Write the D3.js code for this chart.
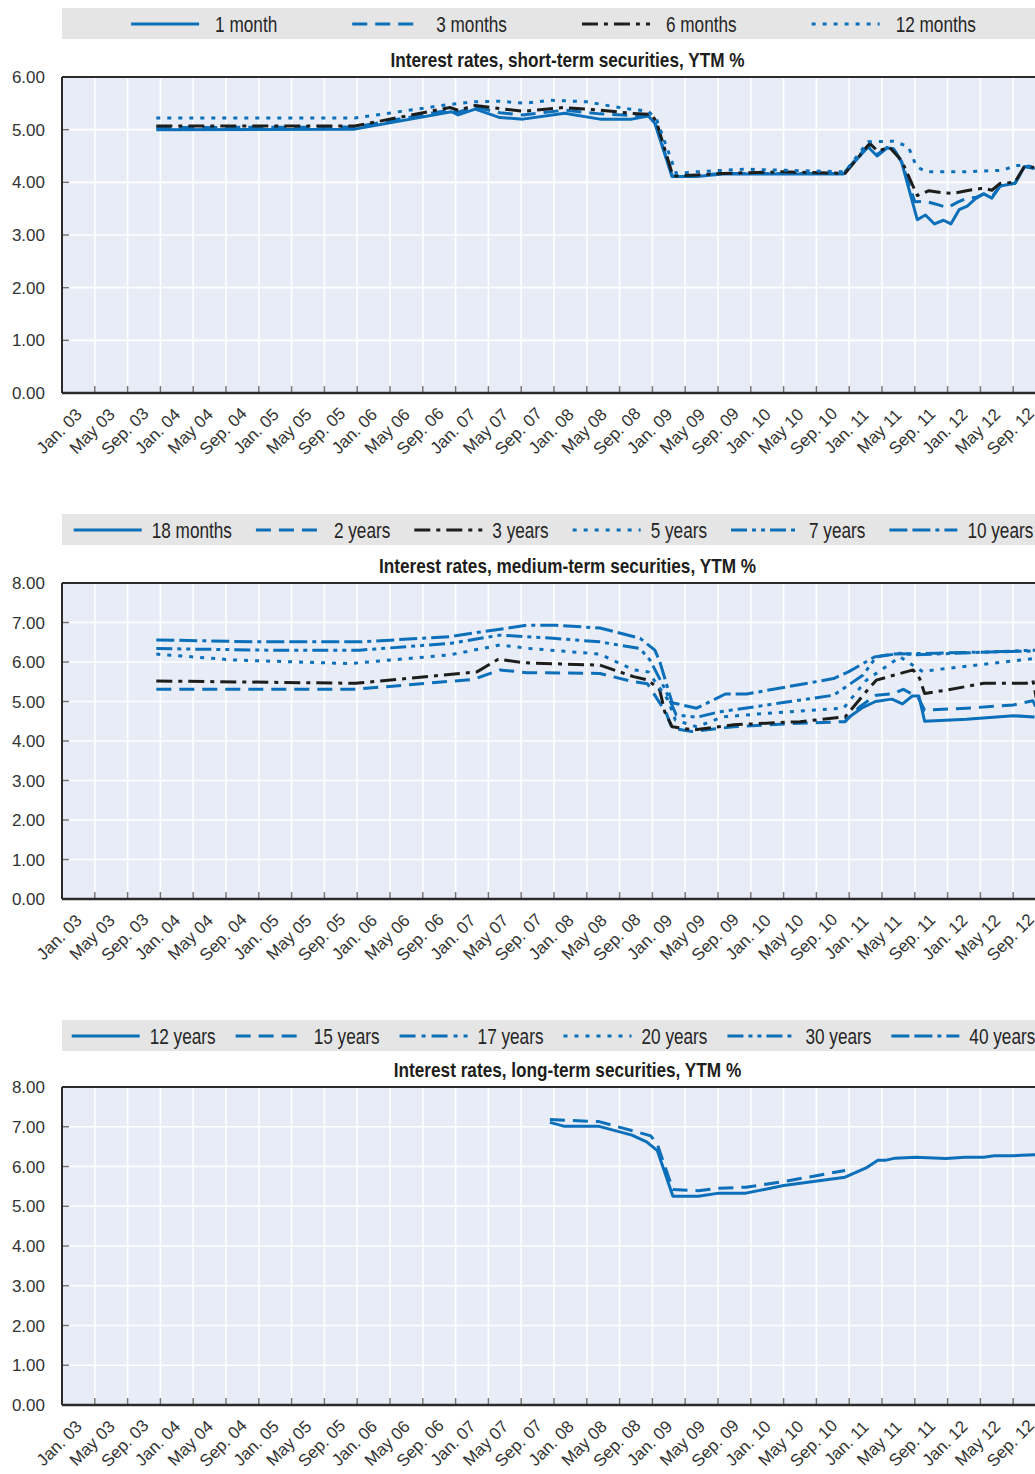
<!DOCTYPE html>
<html><head><meta charset="utf-8">
<script src="https://cdn.jsdelivr.net/npm/d3@7"></script>
<style>body{margin:0;background:#fff}svg{display:block}</style>
</head><body>
<svg id="chart" width="1035" height="1474"></svg>
<script>
// ---------- DATA (month index: 0 = Jan. 2003) ----------
const tickMonths = d3.range(0, 117, 4);
const tickLabels = ["Jan. 03","May 03","Sep. 03","Jan. 04","May 04","Sep. 04","Jan. 05","May 05","Sep. 05",
  "Jan. 06","May 06","Sep. 06","Jan. 07","May 07","Sep. 07","Jan. 08","May 08","Sep. 08","Jan. 09","May 09",
  "Sep. 09","Jan. 10","May 10","Sep. 10","Jan. 11","May 11","Sep. 11","Jan. 12","May 12","Sep. 12"];

const shortTitle = "Interest rates, short-term securities, YTM %";
const mediumTitle = "Interest rates, medium-term securities, YTM %";
const longTitle = "Interest rates, long-term securities, YTM %";

const shortNames = ["1 month","3 months","6 months","12 months"];
const mediumNames = ["18 months","2 years","3 years","5 years","7 years","10 years"];
const longNames = ["12 years","15 years","17 years","20 years","30 years","40 years"];

const m1 = [[11.5,5.00],[35.7,5.01],[47.5,5.34],[48.3,5.28],[50.4,5.39],[53.4,5.23],[56.2,5.20],[61.3,5.31],[65.6,5.20],[69.5,5.20],[71.5,5.26],[72.3,5.12],[74.4,4.11],[77.4,4.11],[80.6,4.16],[95.3,4.16],[98.3,4.67],[99.4,4.50],[100.6,4.65],[101.4,4.64],[102.4,4.38],[104.3,3.29],[105.3,3.38],[106.4,3.21],[107.5,3.28],[108.4,3.21],[109.4,3.48],[110.4,3.55],[111.4,3.69],[112.4,3.78],[113.4,3.70],[114.4,3.93],[116.2,3.98],[117.4,4.30],[118.6,4.26]];
const m3 = [[11.5,5.04],[35.7,5.05],[47.5,5.38],[48.3,5.33],[50.4,5.43],[53.4,5.32],[56.2,5.28],[61.3,5.37],[65.6,5.30],[69.5,5.27],[71.5,5.27],[72.3,5.15],[74.4,4.12],[77.4,4.13],[80.6,4.17],[95.3,4.17],[98.3,4.70],[99.4,4.53],[100.6,4.66],[101.4,4.64],[102.4,4.39],[104.0,3.63],[105.3,3.64],[106.5,3.59],[108.0,3.52],[109.3,3.63],[110.4,3.70],[111.4,3.71],[112.4,3.78],[113.4,3.72],[114.4,3.93],[116.2,3.98],[117.4,4.30],[118.6,4.27]];
const m6 = [[11.5,5.07],[35.7,5.07],[47.3,5.42],[48.3,5.37],[50.4,5.46],[53.4,5.40],[56.3,5.35],[61.1,5.42],[65.6,5.37],[69.5,5.31],[71.9,5.29],[72.5,5.15],[74.5,4.12],[77.4,4.14],[80.6,4.17],[87.9,4.20],[95.5,4.17],[98.5,4.74],[99.5,4.59],[100.9,4.67],[102.4,4.41],[104.3,3.75],[105.7,3.84],[107.5,3.80],[108.7,3.79],[110.3,3.84],[112.3,3.89],[113.4,3.85],[114.4,3.98],[116.2,4.00],[117.4,4.31],[118.6,4.28]];
const m12 = [[11.5,5.22],[35.7,5.22],[47.3,5.48],[50.4,5.53],[53.4,5.54],[56.5,5.50],[59.5,5.56],[64.0,5.53],[67.2,5.44],[69.3,5.39],[71.5,5.35],[72.5,5.20],[74.9,4.17],[77.4,4.20],[83.1,4.25],[87.9,4.23],[95.5,4.20],[98.3,4.77],[101.4,4.78],[103.2,4.68],[104.2,4.30],[105.4,4.20],[110.3,4.20],[114.8,4.23],[116.2,4.32],[117.4,4.32],[118.6,4.29]];

const y18m = [[95.5,4.53],[97.5,4.83],[99.2,5.00],[101.2,5.06],[102.5,4.94],[103.7,5.14],[104.5,5.14],[105.2,4.50],[110.3,4.55],[116.0,4.64],[118.6,4.61]];
const y2 = [[11.5,5.31],[35.8,5.31],[50.2,5.56],[53.4,5.80],[56.7,5.73],[65.6,5.71],[69.7,5.50],[71.4,5.45],[73.7,4.70],[74.4,4.32],[76.8,4.24],[81.9,4.36],[90.0,4.45],[95.5,4.49],[97.3,4.87],[99.3,5.16],[101.4,5.20],[102.6,5.31],[104.4,5.10],[105.2,4.78],[110.3,4.83],[116.0,4.91],[118.4,5.02],[118.9,4.80]];
const y3 = [[11.5,5.52],[35.8,5.46],[50.6,5.75],[53.2,6.07],[56.3,5.98],[65.6,5.92],[69.7,5.63],[71.5,5.54],[72.9,5.29],[73.5,4.74],[74.4,4.36],[77.0,4.28],[81.9,4.41],[90.0,4.49],[95.5,4.61],[97.7,5.16],[99.3,5.54],[102.2,5.71],[103.8,5.80],[104.6,5.58],[105.2,5.20],[107.9,5.29],[112.4,5.46],[117.6,5.46],[118.4,5.54],[118.9,5.00]];
const y5 = [[11.5,6.20],[21.0,6.05],[35.1,5.96],[47.3,6.18],[53.4,6.43],[57.1,6.34],[65.6,6.20],[69.7,5.80],[71.5,5.75],[73.9,5.04],[74.8,4.53],[77.4,4.36],[80.6,4.61],[85.9,4.70],[95.3,4.83],[98.1,5.54],[102.2,6.13],[105.0,5.75],[106.3,5.80],[118.7,6.09]];
const y7 = [[11.5,6.34],[25.0,6.30],[36.3,6.30],[47.3,6.47],[53.4,6.68],[59.9,6.60],[65.6,6.51],[70.5,6.34],[71.7,6.05],[73.5,5.33],[74.9,4.66],[77.4,4.60],[80.2,4.74],[85.9,4.91],[94.1,5.16],[97.7,5.67],[99.3,6.13],[102.2,6.22],[104.0,6.18],[118.7,6.30]];
const y10 = [[11.5,6.56],[23.7,6.51],[36.3,6.51],[47.3,6.64],[51.4,6.77],[56.7,6.93],[60.3,6.93],[65.6,6.86],[70.5,6.60],[72.3,6.30],[72.9,6.01],[74.4,4.97],[77.4,4.83],[80.9,5.19],[83.5,5.19],[94.1,5.58],[95.9,5.75],[99.1,6.13],[101.4,6.20],[118.7,6.28]];

const y12 = [[59.5,7.11],[61.3,7.01],[65.5,7.01],[69.5,6.79],[71.3,6.62],[72.6,6.40],[74.5,5.25],[77.6,5.25],[80.1,5.33],[83.4,5.33],[88.0,5.52],[95.5,5.73],[98.2,5.98],[99.5,6.16],[100.5,6.16],[101.6,6.21],[104.1,6.23],[107.8,6.20],[110.1,6.23],[112.4,6.23],[113.7,6.27],[116.0,6.27],[118.8,6.30]];
const y15 = [[59.5,7.18],[65.5,7.13],[67.2,7.03],[70.3,6.86],[71.8,6.77],[72.6,6.56],[74.5,5.42],[77.6,5.39],[80.1,5.45],[83.4,5.48],[88.0,5.62],[95.5,5.90]];
const y17 = [], y20 = [], y30 = [], y40 = [];

// ---------- STYLE ----------
const BLUE = "#0b6fba", BLACK = "#1d1d1b";
const styles = {
  solid:   {color: BLUE,  dash: null},
  dashed:  {color: BLUE,  dash: "15,8"},
  dashdotK:{color: BLACK, dash: "16,6,4,6"},
  dashdotB:{color: BLUE,  dash: "16,6,4,6"},
  dotted:  {color: BLUE,  dash: "4,7"},
  dashdotdot:{color: BLUE, dash: "16,5,4,5,4,5"},
  longlongdot:{color: BLUE, dash: "18,5,18,5,4,5"}
};

const panels = [
  {title: shortTitle, ymax: 6, legendTop: 8, plotTop: 77, plotBottom: 393, legendGap: 75, textGap: 16,
   series: [[shortNames[0], m1, "solid"], [shortNames[1], m3, "dashed"], [shortNames[2], m6, "dashdotK"], [shortNames[3], m12, "dotted"]]},
  {title: mediumTitle, ymax: 8, legendTop: 514, plotTop: 583, plotBottom: 899, legendGap: 24, textGap: 10,
   series: [[mediumNames[0], y18m, "solid"], [mediumNames[1], y2, "dashed"], [mediumNames[2], y3, "dashdotK"], [mediumNames[3], y5, "dotted"], [mediumNames[4], y7, "dashdotdot"], [mediumNames[5], y10, "longlongdot"]]},
  {title: longTitle, ymax: 8, legendTop: 1020, plotTop: 1087, plotBottom: 1405, legendGap: 20, textGap: 10,
   series: [[longNames[0], y12, "solid"], [longNames[1], y15, "dashed"], [longNames[2], y17, "dashdotB"], [longNames[3], y20, "dotted"], [longNames[4], y30, "dashdotdot"], [longNames[5], y40, "longlongdot"]]}
];

const svg = d3.select("#chart");
const x = d3.scaleLinear().domain([0, 120]).range([62, 1046]);
const plotLeft = 62, plotRight = 1046, center = 553.5;
const FONT = "'Liberation Sans',Arial,Helvetica,sans-serif";
const SQUEEZE = 0.8, TITLE_SQUEEZE = 0.86;

panels.forEach((p, pi) => {
  const g = svg.append("g");
  const y = d3.scaleLinear().domain([0, p.ymax]).range([p.plotBottom, p.plotTop]);

  // legend band
  g.append("rect").attr("x", plotLeft).attr("y", p.legendTop).attr("width", plotRight - plotLeft + 10).attr("height", 31).attr("fill", "#e5e5e5");
  const lg = g.append("g");
  const items = p.series.map(s => {
    const it = lg.append("g");
    it.append("line").attr("x1", 0).attr("x2", 68).attr("y1", 0).attr("y2", 0)
      .attr("stroke", styles[s[2]].color).attr("stroke-width", 3).attr("stroke-dasharray", styles[s[2]].dash);
    const t = it.append("text").attr("transform", `translate(${68 + p.textGap},7.5) scale(${SQUEEZE},1)`).text(s[0])
      .attr("font-family", FONT).attr("font-size", 21.5).attr("fill", "#262626");
    return {it, w: 68 + p.textGap + t.node().getComputedTextLength() * SQUEEZE};
  });
  const total = d3.sum(items, d => d.w) + p.legendGap * (items.length - 1);
  let cx = center - total / 2;
  items.forEach(d => { d.it.attr("transform", `translate(${cx},${p.legendTop + 16})`); cx += d.w + p.legendGap; });

  // title
  g.append("text").attr("transform", `translate(${center + 14},${p.plotTop - 10}) scale(${TITLE_SQUEEZE},1)`).attr("text-anchor", "middle")
    .attr("font-family", FONT).attr("font-weight", "bold").attr("font-size", 20).attr("fill", "#1d1d1b").text(p.title);

  // plot background
  g.append("rect").attr("x", plotLeft).attr("y", p.plotTop).attr("width", plotRight - plotLeft).attr("height", p.plotBottom - p.plotTop).attr("fill", "#e8ecf7");

  // grid
  const yTicks = d3.range(0, p.ymax + 1);
  g.append("g").selectAll("line").data(yTicks.slice(1, -1)).join("line")
    .attr("x1", plotLeft).attr("x2", plotRight).attr("y1", d => y(d)).attr("y2", d => y(d))
    .attr("stroke", "#fff").attr("stroke-width", 1.6);
  g.append("g").selectAll("line").data(tickMonths.slice(1).concat([120])).join("line")
    .attr("x1", d => x(d)).attr("x2", d => x(d)).attr("y1", p.plotTop).attr("y2", p.plotBottom)
    .attr("stroke", "#fff").attr("stroke-width", 1.6);

  // series
  const clipId = "clip" + pi;
  svg.append("clipPath").attr("id", clipId).append("rect").attr("x", plotLeft).attr("y", p.plotTop).attr("width", plotRight - plotLeft).attr("height", p.plotBottom - p.plotTop);
  const line = d3.line().x(d => x(d[0])).y(d => y(d[1]));
  const sg = g.append("g").attr("clip-path", `url(#${clipId})`);
  p.series.forEach(s => {
    if (!s[1].length) return;
    sg.append("path").attr("d", line(s[1])).attr("fill", "none")
      .attr("stroke", styles[s[2]].color).attr("stroke-width", 3).attr("stroke-dasharray", styles[s[2]].dash)
      .attr("stroke-linejoin", "round");
  });

  // tick marks
  g.append("g").selectAll("line").data(tickMonths.slice(1)).join("line")
    .attr("x1", d => x(d)).attr("x2", d => x(d)).attr("y1", p.plotBottom - 7).attr("y2", p.plotBottom)
    .attr("stroke", "#777").attr("stroke-width", 1.5);
  g.append("g").selectAll("line").data(yTicks.slice(1, -1)).join("line")
    .attr("x1", plotLeft).attr("x2", plotLeft + 7).attr("y1", d => y(d)).attr("y2", d => y(d))
    .attr("stroke", "#777").attr("stroke-width", 1.5);

  // frame
  g.append("line").attr("x1", plotLeft).attr("x2", plotRight).attr("y1", p.plotTop).attr("y2", p.plotTop).attr("stroke", "#2b2b2b").attr("stroke-width", 2);
  g.append("line").attr("x1", plotLeft).attr("x2", plotRight).attr("y1", p.plotBottom).attr("y2", p.plotBottom).attr("stroke", "#2b2b2b").attr("stroke-width", 2.5);
  g.append("line").attr("x1", plotLeft).attr("x2", plotLeft).attr("y1", p.plotTop).attr("y2", p.plotBottom).attr("stroke", "#2b2b2b").attr("stroke-width", 2);

  // y labels
  g.append("g").selectAll("text").data(yTicks).join("text")
    .attr("x", plotLeft - 17).attr("y", d => y(d)).attr("dy", "0.36em").attr("text-anchor", "end")
    .attr("font-family", FONT).attr("font-size", 17).attr("fill", "#333").text(d => d3.format(".2f")(d));

  // x labels
  g.append("g").selectAll("text").data(tickMonths).join("text")
    .attr("transform", (d) => `translate(${x(d) - 3},${p.plotBottom + 38}) rotate(-45)`)
    .attr("text-anchor", "middle").attr("dy", "0.36em")
    .attr("font-family", FONT).attr("font-size", 17).attr("fill", "#333").text((d, i) => tickLabels[i]);
});
</script>
</body></html>
